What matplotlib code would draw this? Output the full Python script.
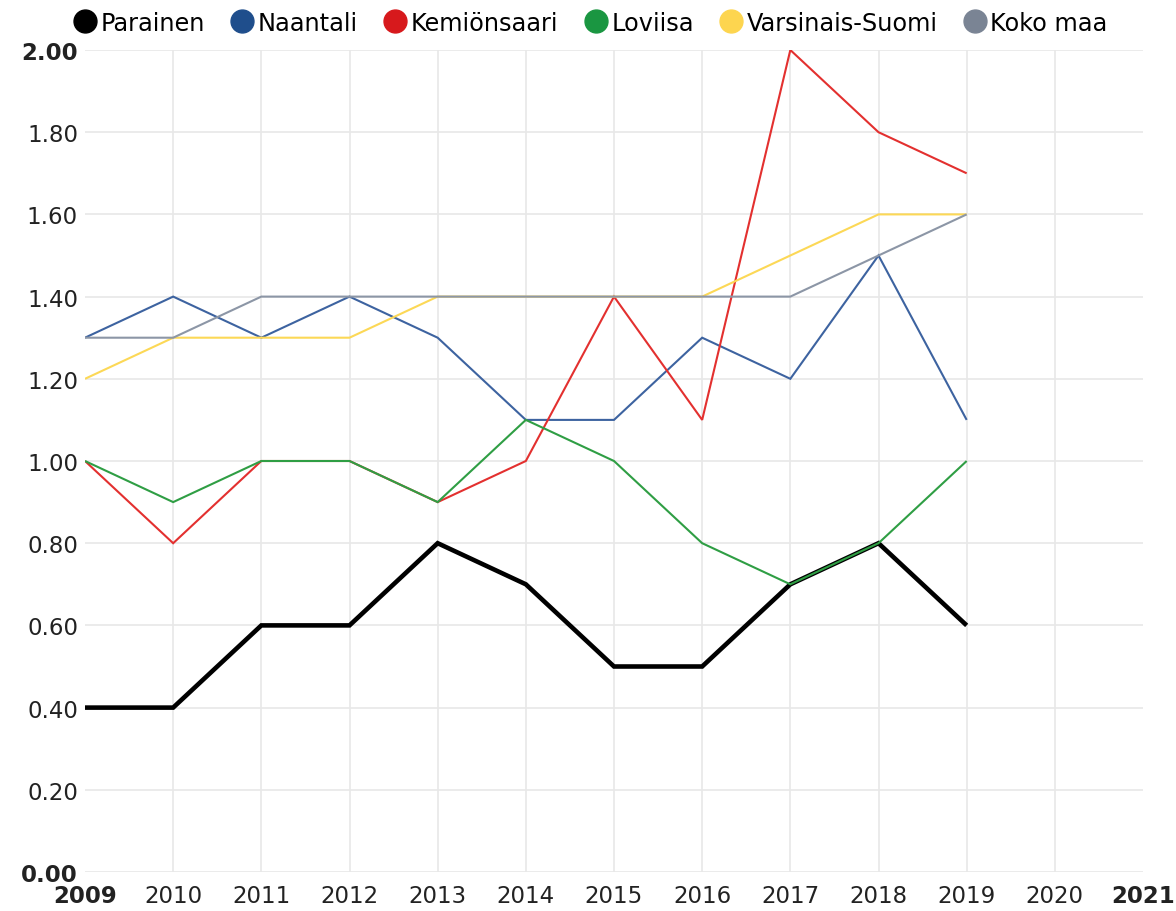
import matplotlib.pyplot as plt
from matplotlib.lines import Line2D

years = [2009, 2010, 2011, 2012, 2013, 2014, 2015, 2016, 2017, 2018, 2019]
parainen = [0.4, 0.4, 0.6, 0.6, 0.8, 0.7, 0.5, 0.5, 0.7, 0.8, 0.6]
naantali = [1.3, 1.4, 1.3, 1.4, 1.3, 1.1, 1.1, 1.3, 1.2, 1.5, 1.1]
kemionsaari = [1.0, 0.8, 1.0, 1.0, 0.9, 1.0, 1.4, 1.1, 2.0, 1.8, 1.7]
loviisa = [1.0, 0.9, 1.0, 1.0, 0.9, 1.1, 1.0, 0.8, 0.7, 0.8, 1.0]
varsinais_suomi = [1.2, 1.3, 1.3, 1.3, 1.4, 1.4, 1.4, 1.4, 1.5, 1.6, 1.6]
koko_maa = [1.3, 1.3, 1.4, 1.4, 1.4, 1.4, 1.4, 1.4, 1.4, 1.5, 1.6]

names = ["Parainen", "Naantali", "Kemiönsaari", "Loviisa", "Varsinais-Suomi", "Koko maa"]
line_colors = ["#000000", "#3d63a0", "#e3302f", "#2f9e44", "#fcd856", "#8c96a6"]
marker_colors = ["#000000", "#1f4e8c", "#d7191c", "#1a9641", "#fdd54f", "#7a8494"]
x_ticks = list(range(2009, 2022))
y_ticks = [0.0, 0.2, 0.4, 0.6, 0.8, 1.0, 1.2, 1.4, 1.6, 1.8, 2.0]

fig = plt.figure(figsize=(11.76, 9.12), dpi=100)
ax = fig.add_axes([85 / 1176, 1 - 873 / 912, (1143 - 85) / 1176, (873 - 51) / 912])

series = [parainen, naantali, kemionsaari, loviisa, varsinais_suomi, koko_maa]
for i, (vals, col) in enumerate(zip(series, line_colors)):
    lw = 3.3 if i == 0 else 1.5
    ax.plot(years, vals, color=col, lw=lw, zorder=2 + i * 0.1,
            solid_joinstyle="miter", solid_capstyle="butt")

ax.set_xlim(2009, 2021)
ax.set_ylim(0, 2.0)
ax.set_xticks(x_ticks)
ax.set_yticks(y_ticks)
ax.set_xticklabels([str(y) for y in x_ticks], fontsize=16.5, color="#222222")
ax.set_yticklabels([f"{v:.2f}" for v in y_ticks], fontsize=16.5, color="#222222")
for lab in (ax.get_xticklabels()[0], ax.get_xticklabels()[-1],
            ax.get_yticklabels()[0], ax.get_yticklabels()[-1]):
    lab.set_fontweight("bold")
ax.tick_params(length=0)
ax.tick_params(axis="y", pad=5)
ax.tick_params(axis="x", pad=9)

for y in y_ticks:
    ax.axhline(y, color="#e8e8e8", lw=1.2, zorder=0)
for x in x_ticks[1:-1]:
    ax.axvline(x, color="#e8e8e8", lw=1.2, zorder=0)
for s in ax.spines.values():
    s.set_visible(False)

handles = [Line2D([], [], marker="o", ls="", markersize=16.5, color=c) for c in marker_colors]
fig.legend(handles, names, loc="upper center", bbox_to_anchor=(0.502, 1.003), ncol=6,
           frameon=False, fontsize=17.3, handletextpad=0.15, columnspacing=1.05,
           handlelength=1.0, borderaxespad=0.2)

fig.savefig("out.png", dpi=100)
